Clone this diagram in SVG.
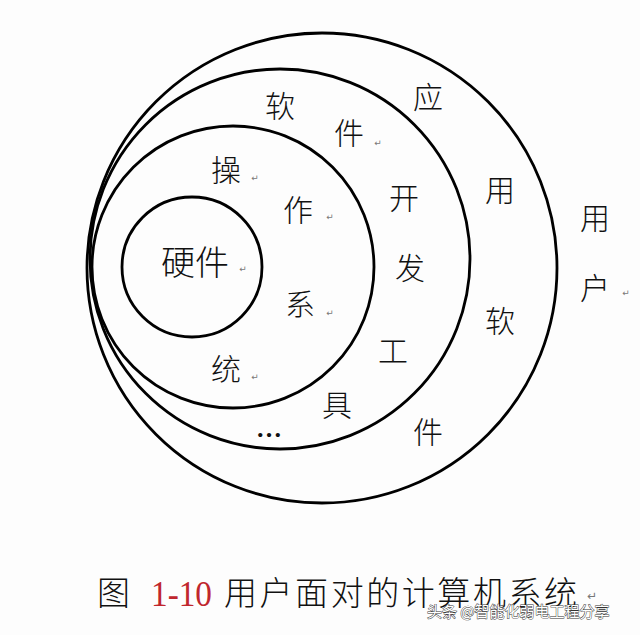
<svg xmlns="http://www.w3.org/2000/svg" width="640" height="635" viewBox="0 0 640 635">
<style>
.ring{fill:none;stroke:#000;stroke-width:2.8}
.t{font-family:"Noto Sans CJK SC","Noto Sans CJK JP",sans-serif;font-size:30px;fill:#111;text-anchor:middle;font-weight:300}
.m{font-family:"DejaVu Sans",sans-serif;font-size:9px;fill:#777;text-anchor:middle}
.cap{font-family:"Noto Sans CJK SC",sans-serif;font-size:33px;fill:#111;font-weight:300}
</style>
<rect width="640" height="635" fill="#fdfdfd"/>
<g id="rings">
  <circle id="user" class="ring" cx="322" cy="268" r="235"/>
  <circle id="appsw" class="ring" cx="280" cy="259" r="190"/>
  <circle id="os" class="ring" cx="233" cy="267" r="141"/>
  <circle id="hw" class="ring" cx="192" cy="267" r="70"/>
</g>
<g id="hw-label">
  <text class="t" x="195" y="275" style="font-size:34px">硬件</text>
  <text class="m" x="243" y="272">↵</text>
</g>
<g id="os-label">
  <text class="t" x="226" y="181">操</text><text class="m" x="255" y="181">↵</text>
  <text class="t" x="298" y="221">作</text><text class="m" x="330" y="220">↵</text>
  <text class="t" x="300" y="315">系</text><text class="m" x="330" y="316">↵</text>
  <text class="t" x="226" y="380">统</text><text class="m" x="255" y="380">↵</text>
  <text x="269" y="437" style="font-family:'Liberation Serif',serif;font-size:26px;text-anchor:middle;fill:#111;font-weight:bold">…</text>
</g>
<g id="devtools-label">
  <text class="t" x="280" y="117">软</text>
  <text class="t" x="349" y="144">件</text><text class="m" x="378" y="146">↵</text>
  <text class="t" x="404" y="209">开</text>
  <text class="t" x="410" y="279">发</text>
  <text class="t" x="393" y="362">工</text>
  <text class="t" x="337" y="416">具</text>
</g>
<g id="appsw-label">
  <text class="t" x="428" y="108">应</text>
  <text class="t" x="500" y="201">用</text>
  <text class="t" x="500" y="332">软</text>
  <text class="t" x="428" y="443">件</text>
</g>
<g id="user-label">
  <text class="t" x="595" y="229">用</text>
  <text class="t" x="595" y="299">户</text><text class="m" x="626" y="296">↵</text>
</g>
<g id="caption">
  <text class="cap" x="97" y="605">图</text>
  <text x="151" y="606" textLength="61" lengthAdjust="spacingAndGlyphs" style="font-family:'Liberation Serif',serif;font-size:36px;fill:#c0262d">1-10</text>
  <text class="cap" x="224" y="605" textLength="353" lengthAdjust="spacing">用户面对的计算机系统</text>
  <text class="m" x="592" y="600" style="font-size:12px">↵</text>
</g>
<g id="watermark">
  <text x="427" y="617" style="font-family:'Noto Sans CJK SC',sans-serif;font-size:15px;fill:#fff;stroke:#333;stroke-width:0.9;paint-order:stroke">头条 @智能化弱电工程分享</text>
</g>
</svg>
